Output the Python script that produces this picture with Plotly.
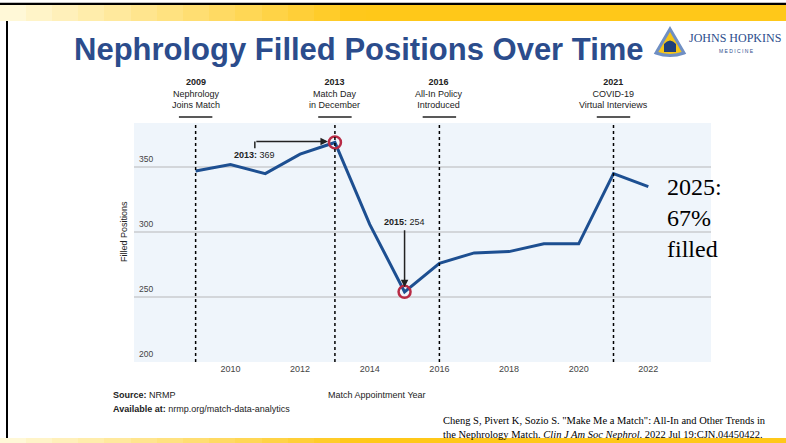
import plotly.graph_objects as go

# data
years = [2009, 2010, 2011, 2012, 2013, 2014, 2015, 2016, 2017, 2018, 2019, 2020, 2021, 2022]
filled = [347, 352, 345, 360, 369, 306, 254, 276, 284, 285, 291, 291, 345, 335]

highlight_years = [2013, 2015]
highlight_vals = [369, 254]

events_year = [2009, 2013, 2016, 2021]
events_text = ["Nephrology<br>Joins Match", "Match Day<br>in December",
               "All-In Policy<br>Introduced", "COVID-19<br>Virtual Interviews"]

x_ticks = [2010, 2012, 2014, 2016, 2018, 2020, 2022]
y_ticks = [200, 250, 300, 350]

W, H = 786, 443
L, R, T, B = 134, 711, 123, 362   # plot area in pixels


def px(x):
    return (x - L) / (R - L)


def py(y):
    return (B - y) / (B - T)


fig = go.Figure()

fig.add_trace(go.Scatter(x=years, y=filled, mode="lines",
                         line=dict(color="#1d4f91", width=3), hoverinfo="skip"))
fig.add_trace(go.Scatter(x=highlight_years, y=highlight_vals, mode="markers",
                         marker=dict(symbol="circle-open", size=12, color="#b82b45",
                                     line=dict(width=2.5, color="#b82b45")),
                         hoverinfo="skip"))

shapes = []
ann = []

# slide decoration: gold gradient bars top and bottom (drawn as annotation boxes), black border
steps = 30
for i in range(steps):
    t = min(1.0, (i / (steps - 1)) * 2.2)
    col = f"rgb(255,{int(248 - t * 48)},{int(215 - t * 190)})"
    xc = px(W * (i + 0.5) / steps)
    ann.append(dict(text=" ", xref="paper", yref="paper", x=xc, y=py(13), xanchor="center",
                    yanchor="middle", width=W / steps + 1, height=16, bgcolor=col,
                    borderpad=0, borderwidth=0, showarrow=False))
    ann.append(dict(text=" ", xref="paper", yref="paper", x=xc, y=py(440.5), xanchor="center",
                    yanchor="middle", width=W / steps + 1, height=5, bgcolor=col,
                    borderpad=0, borderwidth=0, showarrow=False, font=dict(size=2)))
shapes.append(dict(type="line", xref="paper", yref="paper", x0=px(0), x1=px(W),
                   y0=py(4), y1=py(4), line=dict(color="black", width=2.5)))
shapes.append(dict(type="line", xref="paper", yref="paper", x0=px(7), x1=px(7),
                   y0=py(4), y1=py(438), line=dict(color="black", width=2)))

# logo shield
shapes.append(dict(type="path", xref="paper", yref="paper",
                   path=f"M {px(670)},{py(29)} L {px(684)},{py(53)} Q {px(670)},{py(58)} {px(656)},{py(53)} Z",
                   fillcolor="#f5c518", line=dict(color="#6f8fc4", width=3)))
shapes.append(dict(type="path", xref="paper", yref="paper",
                   path=f"M {px(664)},{py(52)} L {px(664)},{py(44)} Q {px(670)},{py(37)} {px(676)},{py(44)} L {px(676)},{py(52)} Z",
                   fillcolor="#1f3f7a", line=dict(width=0)))
ann.append(dict(text="JOHNS HOPKINS", xref="paper", yref="paper", x=px(687), y=py(38),
                xanchor="left", yanchor="middle", showarrow=False,
                font=dict(family="Liberation Serif", size=12, color="#2b4c8c")))
ann.append(dict(text="M E D I C I N E", xref="paper", yref="paper", x=px(736), y=py(51),
                xanchor="center", yanchor="middle", showarrow=False,
                font=dict(family="Liberation Sans", size=5, color="#2b4c8c")))

# title
ann.append(dict(text="<b>Nephrology Filled Positions Over Time</b>", xref="paper", yref="paper",
                x=px(359), y=py(50), xanchor="center", yanchor="middle", showarrow=False,
                font=dict(family="Liberation Sans", size=31, color="#2b4c8c")))

# event lines and labels
for yr, txt in zip(events_year, events_text):
    shapes.append(dict(type="line", xref="x", yref="paper", x0=yr, x1=yr, y0=0, y1=1,
                       line=dict(color="black", width=1.5, dash="dot")))
    ann.append(dict(text=f"<b>{yr}</b><br>{txt}", xref="x", yref="paper", x=yr, y=py(94),
                    xanchor="center", yanchor="middle", showarrow=False,
                    font=dict(family="Liberation Sans", size=9, color="#222")))
    shapes.append(dict(type="line", xref="x", yref="paper", x0=yr - 0.48, x1=yr + 0.48,
                       y0=py(117), y1=py(117), line=dict(color="#222", width=1.5)))

# callouts
shapes.append(dict(type="line", xref="x", yref="y", x0=2010.7, x1=2010.7, y0=364.5, y1=369.8,
                   line=dict(color="#222", width=1.5)))
ann.append(dict(text="", x=2012.8, y=369.8, ax=2010.7, ay=369.8, axref="x", ayref="y",
                xref="x", yref="y", showarrow=True, arrowhead=2, arrowsize=1,
                arrowwidth=1.5, arrowcolor="#222"))
ann.append(dict(text="<b>2013:</b> 369", x=2010.7, y=359.5, xref="x", yref="y",
                showarrow=False, font=dict(family="Liberation Sans", size=9, color="#222")))
ann.append(dict(text="", x=2015, y=257.5, ax=2015, ay=302.5, axref="x", ayref="y",
                xref="x", yref="y", showarrow=True, arrowhead=2, arrowsize=1,
                arrowwidth=1.5, arrowcolor="#222"))
ann.append(dict(text="<b>2015:</b> 254", x=2015, y=308, xref="x", yref="y",
                showarrow=False, font=dict(family="Liberation Sans", size=9, color="#222")))

# y tick labels sit above the gridlines
for v in y_ticks:
    ann.append(dict(text=str(v), xref="paper", yref="y", x=px(137), y=v, yshift=8,
                    xanchor="left", yanchor="middle", showarrow=False,
                    font=dict(family="Liberation Sans", size=8.5, color="#444")))
ann.append(dict(text="Filled Positions", xref="paper", yref="paper", x=px(117), y=py(232),
                textangle=-90, showarrow=False,
                font=dict(family="Liberation Sans", size=9, color="#222")))

# side note
ann.append(dict(text="2025:<br>67%<br>filled", xref="paper", yref="paper", x=px(665), y=py(218),
                xanchor="left", yanchor="middle", align="left", showarrow=False,
                font=dict(family="Liberation Serif", size=24, color="black")))

# footer
ann.append(dict(text="<b>Source:</b> NRMP", xref="paper", yref="paper", x=px(111), y=py(395),
                xanchor="left", yanchor="middle", showarrow=False,
                font=dict(family="Liberation Sans", size=9, color="#222")))
ann.append(dict(text="<b>Available at:</b> nrmp.org/match-data-analytics", xref="paper", yref="paper",
                x=px(111), y=py(409), xanchor="left", yanchor="middle", showarrow=False,
                font=dict(family="Liberation Sans", size=9, color="#222")))
ann.append(dict(text="Match Appointment Year", xref="paper", yref="paper", x=px(377), y=py(395),
                xanchor="center", yanchor="middle", showarrow=False,
                font=dict(family="Liberation Sans", size=9, color="#222")))
ann.append(dict(text='Cheng S, Pivert K, Sozio S. "Make Me a Match": All-In and Other Trends in<br>'
                     'the Nephrology Match. <i>Clin J Am Soc Nephrol</i>. 2022 Jul 19:CJN.04450422.',
                xref="paper", yref="paper", x=px(441), y=py(427), xanchor="left", yanchor="middle",
                align="left", showarrow=False,
                font=dict(family="Liberation Serif", size=10.5, color="black")))

fig.update_layout(
    width=W, height=H,
    margin=dict(l=L, r=W - R, t=T, b=H - B),
    paper_bgcolor="white", plot_bgcolor="#eff5fb",
    showlegend=False,
    shapes=shapes, annotations=ann,
    xaxis=dict(range=[2007.23, 2023.8], tickvals=x_ticks, showgrid=False, zeroline=False,
               ticks="", tickfont=dict(family="Liberation Sans", size=9, color="#444"),
               showline=False),
    yaxis=dict(range=[200, 384], tickvals=y_ticks, showticklabels=False,
               gridcolor="#d3d6da", gridwidth=1.5, zeroline=False, showline=False),
)

fig.write_html("out.html", config={"displayModeBar": False},
               post_script="document.body.style.margin='0px';")
